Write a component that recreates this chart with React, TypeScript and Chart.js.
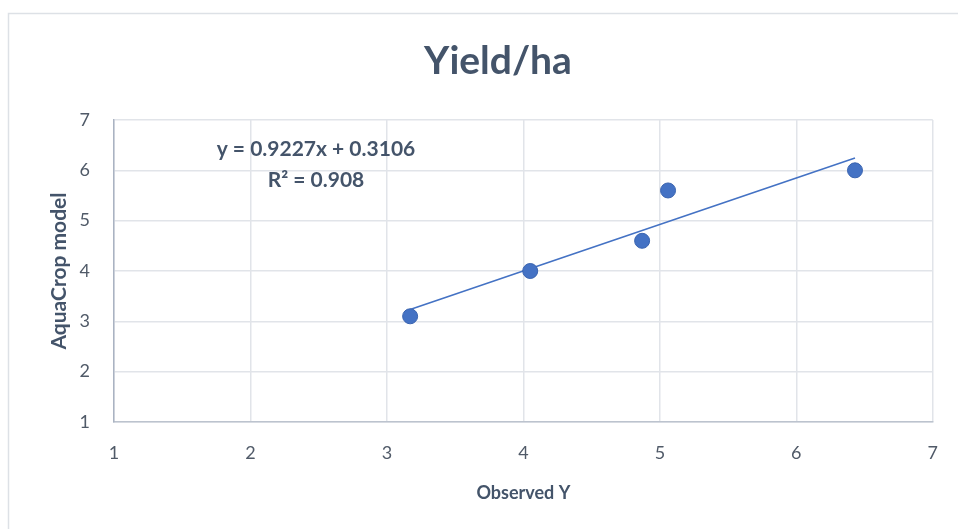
import React, { useEffect, useRef } from "react";
import { Chart, registerables } from "chart.js";

Chart.register(...registerables);

const observed: number[] = [3.17, 4.05, 4.87, 5.06, 6.43];
const modelled: number[] = [3.1, 4.0, 4.6, 5.6, 6.0];
const trendSlope = 0.9227;
const trendIntercept = 0.3106;
const rSquared = 0.908;
const axisTicks: number[] = [1, 2, 3, 4, 5, 6, 7];
const chartTitle = "Yield/ha";
const xTitle = "Observed Y";
const yTitle = "AquaCrop model";

const FONT = "Lato, 'Open Sans', sans-serif";
const TEXT = "#44546a";
const TICK = "#505a68";
const BLUE = "#4472c4";

export default function App() {
  const ref = useRef<HTMLCanvasElement | null>(null);

  useEffect(() => {
    if (!ref.current) return;
    const points = observed.map((x, i) => ({ x, y: modelled[i] }));
    const xMin = Math.min(...observed);
    const xMax = Math.max(...observed);
    const trend = [
      { x: xMin, y: trendSlope * xMin + trendIntercept },
      { x: xMax, y: trendSlope * xMax + trendIntercept },
    ];

    const borderPlugin = {
      id: "outerBorder",
      beforeDraw(chart: any) {
        const ctx = chart.ctx;
        ctx.save();
        ctx.fillStyle = "#ffffff";
        ctx.fillRect(0, 0, chart.width, chart.height);
        ctx.strokeStyle = "#dde1e6";
        ctx.lineWidth = 1.5;
        ctx.strokeRect(8.5, 13.5, chart.width + 10, chart.height + 10);
        ctx.restore();
      },
    };

    const titlePlugin = {
      id: "mainTitle",
      afterDraw(chart: any) {
        const ctx = chart.ctx;
        ctx.save();
        ctx.font = `bold 39px ${FONT}`;
        ctx.fillStyle = TEXT;
        ctx.textAlign = "center";
        ctx.textBaseline = "middle";
        ctx.fillText(chartTitle, 498, 61);
        ctx.restore();
      },
    };

    const equationPlugin = {
      id: "equation",
      afterDatasetsDraw(chart: any) {
        const ctx = chart.ctx;
        const xs = chart.scales.x;
        const ys = chart.scales.y;
        ctx.save();
        ctx.font = `bold 21px ${FONT}`;
        ctx.fillStyle = TEXT;
        ctx.textAlign = "center";
        ctx.textBaseline = "middle";
        const cx = xs.getPixelForValue(2.48);
        ctx.fillText(
          `y = ${trendSlope}x + ${trendIntercept}`,
          cx,
          ys.getPixelForValue(6.42)
        );
        ctx.fillText(`R² = ${rSquared}`, cx, ys.getPixelForValue(5.8));
        ctx.restore();
      },
    };

    const chart = new Chart(ref.current, {
      type: "scatter",
      data: {
        datasets: [
          {
            label: "Yield",
            data: points,
            backgroundColor: BLUE,
            borderColor: "#3a64b0",
            borderWidth: 1,
            pointRadius: 7.5,
            order: 1,
          },
          {
            type: "line",
            label: "Trend",
            data: trend,
            borderColor: BLUE,
            borderWidth: 1.6,
            pointRadius: 0,
            fill: false,
            order: 2,
          } as any,
        ],
      },
      options: {
        animation: false,
        responsive: false,
        devicePixelRatio: 1,
        layout: { padding: { left: 8, top: 120, right: 25, bottom: 0 } },
        plugins: {
          legend: { display: false },
          tooltip: { enabled: false },
          title: { display: false },
        },
        scales: {
          x: {
            type: "linear",
            min: 1,
            max: 7,
            afterBuildTicks: (scale: any) => {
              scale.ticks = axisTicks.map((v) => ({ value: v }));
            },
            afterFit: (scale: any) => {
              scale.height = 107;
            },
            ticks: {
              color: TICK,
              font: { family: FONT, size: 18 },
              padding: 20,
            },
            grid: { color: "#e1e4e9", lineWidth: 1.5, drawTicks: false },
            border: { color: "#bcc3ce", width: 1.5 },
            title: {
              display: true,
              text: xTitle,
              color: TEXT,
              font: { family: FONT, size: 18, weight: "bold" },
              padding: { top: 0, bottom: 25 },
            },
          },
          y: {
            type: "linear",
            min: 1,
            max: 7,
            afterBuildTicks: (scale: any) => {
              scale.ticks = axisTicks.map((v) => ({ value: v }));
            },
            afterFit: (scale: any) => {
              scale.width = 106;
            },
            ticks: {
              color: TICK,
              font: { family: FONT, size: 18 },
              padding: 24,
            },
            grid: { color: "#e1e4e9", lineWidth: 1.5, drawTicks: false },
            border: { color: "#aab3c2", width: 1.5 },
            title: {
              display: true,
              text: yTitle,
              color: TEXT,
              font: { family: FONT, size: 21, weight: "bold" },
              padding: { top: 39, bottom: 0 },
            },
          },
        },
      },
      plugins: [borderPlugin, equationPlugin, titlePlugin],
    });

    return () => chart.destroy();
  }, []);

  return (
    <div style={{ position: "fixed", left: 0, top: 0, width: 958, height: 529 }}>
      <canvas ref={ref} width={958} height={529} style={{ width: 958, height: 529, display: "block" }} />
    </div>
  );
}
